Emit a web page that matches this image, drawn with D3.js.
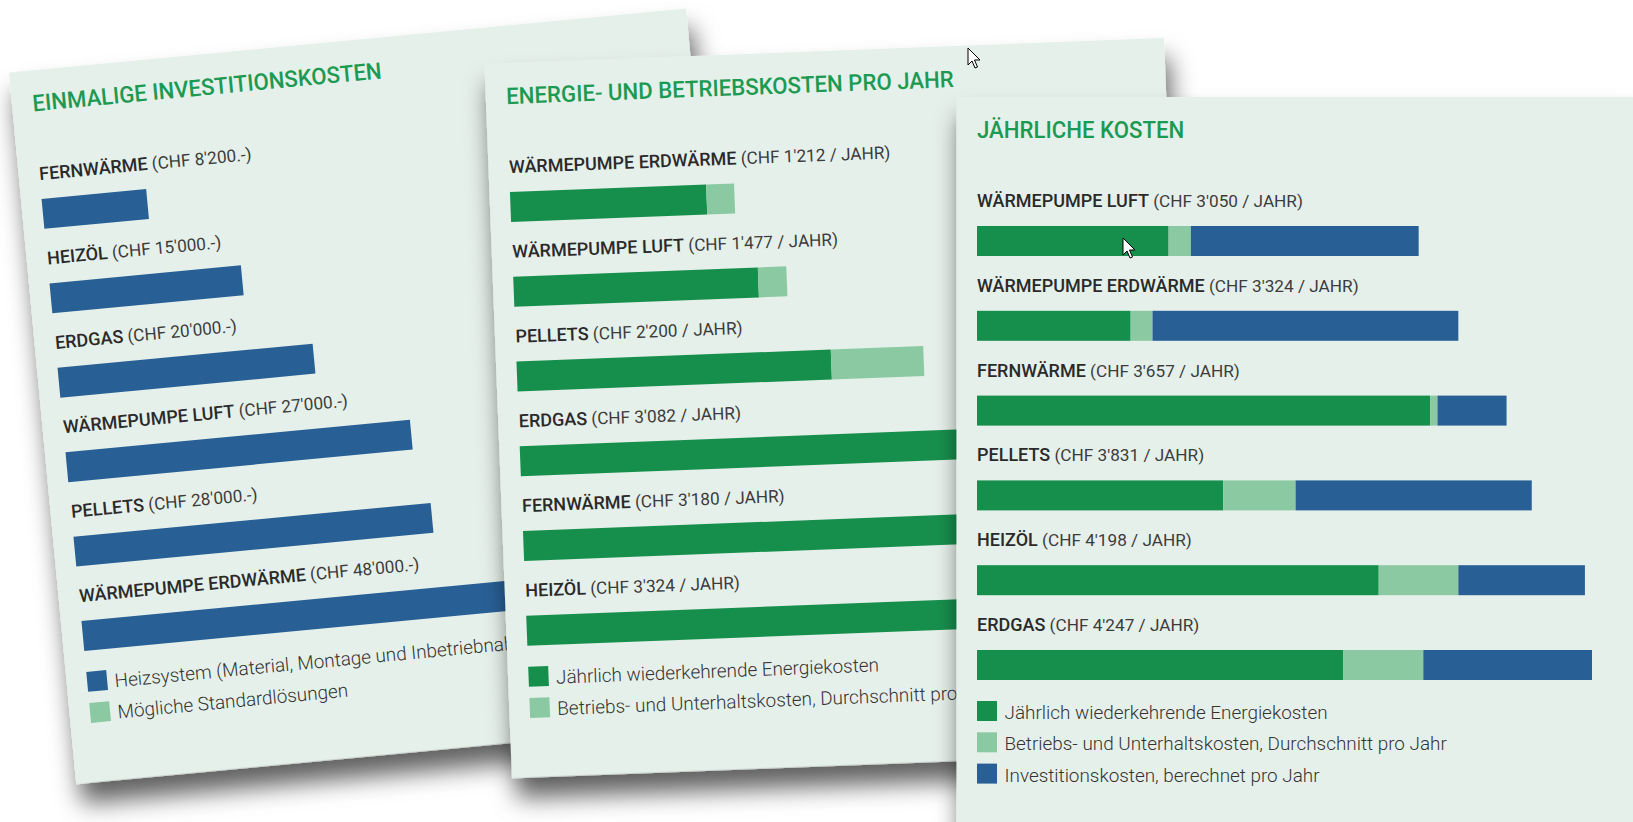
<!DOCTYPE html>
<html>
<head>
<meta charset="utf-8">
<script src="https://cdn.jsdelivr.net/npm/d3@7"></script>
<style>
  body { margin: 0; background: #fff; }
  svg { display: block; }
</style>
</head>
<body>
<div id="chart"></div>
<script>
// ---- data ----
const investLabels = ['FERNWÄRME', 'HEIZÖL', 'ERDGAS', 'WÄRMEPUMPE LUFT', 'PELLETS', 'WÄRMEPUMPE ERDWÄRME'];
const investValues = [8200, 15000, 20000, 27000, 28000, 48000];
const investLegend = ['Heizsystem (Material, Montage und Inbetriebnahme)', 'Mögliche Standardlösungen'];

const energyLabels = ['WÄRMEPUMPE ERDWÄRME', 'WÄRMEPUMPE LUFT', 'PELLETS', 'ERDGAS', 'FERNWÄRME', 'HEIZÖL'];
const energyCost = [1061, 1323, 1700, 2530, 3130, 2774];
const energyOperating = [151, 154, 500, 552, 50, 550];
const energyTotals = [1212, 1477, 2200, 3082, 3180, 3324];
const energyLegend = ['Jährlich wiederkehrende Energiekosten', 'Betriebs- und Unterhaltskosten, Durchschnitt pro Jahr'];

const annualLabels = ['WÄRMEPUMPE LUFT', 'WÄRMEPUMPE ERDWÄRME', 'FERNWÄRME', 'PELLETS', 'HEIZÖL', 'ERDGAS'];
const annualEnergy = [1323, 1061, 3130, 1700, 2774, 2530];
const annualOperating = [154, 151, 50, 500, 550, 552];
const annualInvest = [1573, 2112, 477, 1631, 874, 1165];
const annualTotals = [3050, 3324, 3657, 3831, 4198, 4247];
const annualLegend = ['Jährlich wiederkehrende Energiekosten', 'Betriebs- und Unterhaltskosten, Durchschnitt pro Jahr', 'Investitionskosten, berechnet pro Jahr'];

const colors = { energy: '#178f4c', operating: '#8bc9a3', invest: '#286096' };

const width = 1633;
const height = 822;

const chf = d3.formatLocale({ decimal: '.', thousands: "'", grouping: [3], currency: ['', ''] }).format(',');

const svg = d3.select('#chart')
  .append('svg')
  .attr('width', width)
  .attr('height', height);

const defs = svg.append('defs');
defs.append('filter')
  .attr('id', 'shadow')
  .attr('x', '-10%').attr('y', '-10%')
  .attr('width', '125%').attr('height', '135%')
  .append('feDropShadow')
  .attr('dx', 4).attr('dy', 20)
  .attr('stdDeviation', 12)
  .attr('flood-color', '#000')
  .attr('flood-opacity', 0.62);

// card layout (local coordinates)
const cardW = 680;
const pad = 20.5;
const rowY0 = 110;
const rowStep = 84.8;
const barH = 30;
const barMax = 615;

function drawCard(cfg) {
  const g = svg.append('g').attr('transform', cfg.transform);

  const rows = cfg.labels.map((name, i) => {
    const r = { name: name, total: cfg.totals[i] };
    cfg.keys.forEach((k, j) => { r[k] = cfg.series[j][i]; });
    return r;
  });

  const legendTop = rowY0 + 5 * rowStep + 19 + 51;
  const cardH = legendTop + cfg.legend.length * 31.3 + 48;

  g.append('rect')
    .attr('width', cardW)
    .attr('height', cardH)
    .attr('fill', '#e6f0ea')
    .attr('filter', 'url(#shadow)');

  g.append('text')
    .attr('transform', `translate(${pad},41) scale(0.965,1)`)
    .attr('font-family', 'Roboto')
    .attr('font-weight', 500)
    .attr('font-size', 23)
    .attr('fill', '#1c9a52')
    .text(cfg.title);

  const y = d3.scaleBand()
    .domain(cfg.labels)
    .range([rowY0, rowY0 + cfg.labels.length * rowStep]);

  const x = d3.scaleLinear()
    .domain([0, d3.max(cfg.totals)])
    .range([pad, pad + barMax]);

  const label = g.selectAll('.lbl')
    .data(rows)
    .join('text')
    .attr('class', 'lbl')
    .attr('x', pad)
    .attr('y', d => y(d.name))
    .attr('font-family', 'Roboto')
    .attr('font-size', 18)
    .attr('fill', '#2a2a2a');
  label.append('tspan')
    .attr('font-weight', 500)
    .text(d => d.name);
  label.append('tspan')
    .attr('font-weight', 400)
    .attr('fill', '#3c3c3c')
    .attr('font-size', 17.2)
    .text(d => ' (CHF ' + chf(d.total) + cfg.suffix + ')');

  const stacked = d3.stack().keys(cfg.keys)(rows);
  g.selectAll('.layer')
    .data(stacked)
    .join('g')
    .attr('class', 'layer')
    .attr('fill', (d, i) => cfg.colors[i])
    .selectAll('rect')
    .data(d => d)
    .join('rect')
    .attr('x', d => x(d[0]))
    .attr('y', d => y(d.data.name) + 19)
    .attr('width', d => x(d[1]) - x(d[0]))
    .attr('height', barH);

  const leg = g.selectAll('.leg')
    .data(cfg.legend)
    .join('g')
    .attr('class', 'leg')
    .attr('transform', (d, i) => `translate(${pad},${legendTop + i * 31.3})`);
  leg.append('rect')
    .attr('width', 20)
    .attr('height', 20)
    .attr('fill', (d, i) => cfg.legendColors[i]);
  leg.append('text')
    .attr('x', 27.5)
    .attr('y', 18)
    .attr('font-family', 'Roboto')
    .attr('font-weight', 300)
    .attr('font-size', 18.9)
    .attr('fill', '#333')
    .text(d => d);
}

drawCard({
  transform: 'translate(9,72.5) rotate(-5.4)',
  title: 'EINMALIGE INVESTITIONSKOSTEN',
  labels: investLabels,
  keys: ['invest'],
  series: [investValues],
  totals: investValues,
  colors: [colors.invest],
  suffix: '.-',
  legend: investLegend,
  legendColors: [colors.invest, colors.operating]
});

drawCard({
  transform: 'translate(484.5,64) rotate(-2.2)',
  title: 'ENERGIE- UND BETRIEBSKOSTEN PRO JAHR',
  labels: energyLabels,
  keys: ['energy', 'operating'],
  series: [energyCost, energyOperating],
  totals: energyTotals,
  colors: [colors.energy, colors.operating],
  suffix: ' / JAHR',
  legend: energyLegend,
  legendColors: [colors.energy, colors.operating]
});

drawCard({
  transform: 'translate(956.5,97)',
  title: 'JÄHRLICHE KOSTEN',
  labels: annualLabels,
  keys: ['energy', 'operating', 'invest'],
  series: [annualEnergy, annualOperating, annualInvest],
  totals: annualTotals,
  colors: [colors.energy, colors.operating, colors.invest],
  suffix: ' / JAHR',
  legend: annualLegend,
  legendColors: [colors.energy, colors.operating, colors.invest]
});

// mouse pointers from the screenshot
const cursor = 'M0,0 L0,17 L4,13 L7,20 L9.5,19 L6.5,12 L12,12 Z';
[[968, 48], [1123, 238]].forEach(p => {
  svg.append('path')
    .attr('d', cursor)
    .attr('transform', `translate(${p[0]},${p[1]})`)
    .attr('fill', '#fff')
    .attr('stroke', '#000')
    .attr('stroke-width', 1);
});
</script>
</body>
</html>
